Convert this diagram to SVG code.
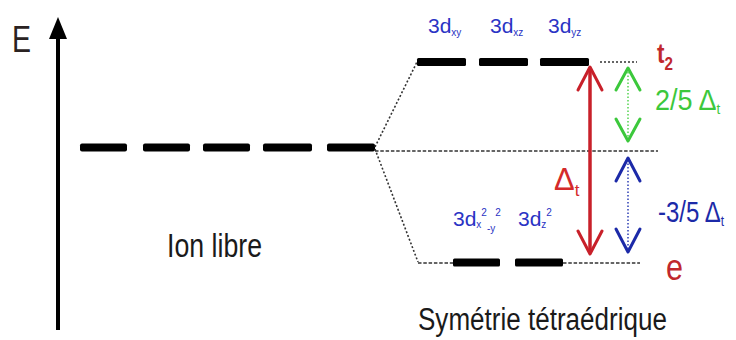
<svg xmlns="http://www.w3.org/2000/svg" width="736" height="340" viewBox="0 0 736 340">
  <style>
    .txt { font-family: "Liberation Sans Narrow", "Liberation Sans", Arial, sans-serif; }
    .level { fill: #000; }
    .dot { fill: none; stroke: #333; stroke-width: 1.6; stroke-dasharray: 2 2; }
    .dash { fill: none; stroke: #333; stroke-width: 1.6; stroke-dasharray: 3.5 1.8; }
    .orb { fill: #2a33c4; font-size: 21px; }
    .orb-s { font-size: 10px; }
    .red { stroke: #c8202a; }
    .head { fill: none; stroke-width: 3; stroke-linecap: round; stroke-linejoin: round; }
  </style>

  <!-- energy axis -->
  <g id="axis">
    <line x1="58" y1="330" x2="58" y2="34" stroke="#000" stroke-width="4"/>
    <polygon points="58,17 67,39 49,39" fill="#000"/>
    <text class="txt" x="12" y="52" font-size="36" fill="#2a2222" textLength="19" lengthAdjust="spacingAndGlyphs">E</text>
  </g>

  <!-- free ion: five degenerate d orbitals -->
  <g id="free-ion">
    <rect class="level" x="80" y="143.5" width="47" height="8" rx="2"/>
    <rect class="level" x="143" y="143.5" width="47" height="8" rx="2"/>
    <rect class="level" x="203" y="143.5" width="47" height="8" rx="2"/>
    <rect class="level" x="263" y="143.5" width="49" height="8" rx="2"/>
    <rect class="level" x="327" y="143.5" width="48" height="8" rx="2"/>
    <text class="txt" x="167" y="257" font-size="34" fill="#1a1a1a" textLength="95" lengthAdjust="spacingAndGlyphs">Ion libre</text>
  </g>

  <!-- tetrahedral field: t2 set -->
  <g id="t2-level">
    <rect class="level" x="417" y="58" width="49" height="8" rx="1.5"/>
    <rect class="level" x="479" y="58" width="49" height="8" rx="1.5"/>
    <rect class="level" x="540" y="58" width="49" height="8" rx="1.5"/>
    <text class="txt orb" x="428" y="33">3d<tspan class="orb-s" dy="3">xy</tspan></text>
    <text class="txt orb" x="490" y="33">3d<tspan class="orb-s" dy="3">xz</tspan></text>
    <text class="txt orb" x="548" y="33">3d<tspan class="orb-s" dy="3">yz</tspan></text>
    <text class="txt" transform="translate(657,63) scale(0.8,1)" font-size="28" font-weight="bold" fill="#c0282d">t<tspan font-size="19" dy="7">2</tspan></text>
  </g>

  <!-- tetrahedral field: e set -->
  <g id="e-level">
    <rect class="level" x="453" y="258.5" width="47" height="8" rx="1.5"/>
    <rect class="level" x="515" y="258.5" width="48" height="8" rx="1.5"/>
    <text class="txt orb" x="453" y="226" font-size="20">3d<tspan class="orb-s" dy="2">x</tspan><tspan class="orb-s" dy="-12">2</tspan><tspan class="orb-s" dy="16">-y</tspan><tspan class="orb-s" dy="-16">2</tspan></text>
    <text class="txt orb" x="518" y="226" font-size="20">3d<tspan class="orb-s" dy="2">z</tspan><tspan class="orb-s" dy="-12">2</tspan></text>
    <text class="txt" x="666" y="280" font-size="36" fill="#c0282d" textLength="17" lengthAdjust="spacingAndGlyphs">e</text>
  </g>

  <!-- splitting labels -->
  <g id="labels">
    <text class="txt" x="554" y="190" font-size="31" fill="#d42a2a">Δ<tspan font-size="17" dy="6">t</tspan></text>
    <text class="txt" transform="translate(655,110) scale(0.9,1)" font-size="30" fill="#3cc83c">2/5 Δ<tspan font-size="15" dy="4">t</tspan></text>
    <text class="txt" transform="translate(658,222) scale(0.8,1)" font-size="30" fill="#1c2aa8">-3/5 Δ<tspan font-size="15" dy="4">t</tspan></text>
    <text class="txt" x="418" y="330" font-size="31" fill="#1a1a1a" textLength="249" lengthAdjust="spacingAndGlyphs">Symétrie tétraédrique</text>
  </g>

  <!-- connectors -->
  <g id="connectors">
    <line class="dot" x1="375" y1="147" x2="417" y2="62"/>
    <line class="dot" x1="375" y1="149" x2="418" y2="262"/>
    <line class="dash" x1="375" y1="151" x2="658" y2="151"/>
    <line class="dot" x1="600" y1="62" x2="637" y2="62"/>
    <line class="dash" x1="418" y1="263" x2="453" y2="263"/>
    <line class="dash" x1="563" y1="263" x2="640" y2="263"/>

    <!-- total splitting arrow -->
    <line x1="590" y1="68" x2="590" y2="253" stroke="#c8202a" stroke-width="3.5"/>
    <polyline class="head red" points="578,90 590,67 602,90"/>
    <polyline class="head red" points="578,231 590,254 602,231"/>

    <!-- t2 raise -->
    <line x1="628" y1="72" x2="628" y2="139" stroke="#5ed65a" stroke-width="1.6" stroke-dasharray="1.5 2"/>
    <polyline class="head" stroke="#3cc83c" stroke-width="2.5" points="616,90 628,68 640,90"/>
    <polyline class="head" stroke="#3cc83c" stroke-width="2.5" points="616,119 628,141 640,119"/>

    <!-- e lowering -->
    <line x1="628" y1="160" x2="628" y2="249" stroke="#3a4ab8" stroke-width="1.6" stroke-dasharray="1.5 2"/>
    <polyline class="head" stroke="#1c2aa8" stroke-width="2.8" points="616,181 628,158 640,181"/>
    <polyline class="head" stroke="#1c2aa8" stroke-width="2.8" points="616,229 628,252 640,229"/>
  </g>
</svg>
